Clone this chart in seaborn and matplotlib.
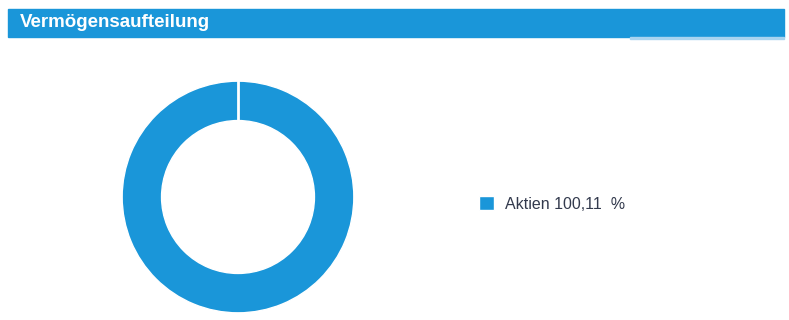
import matplotlib
matplotlib.use("Agg")
import matplotlib.pyplot as plt
import seaborn as sns
from matplotlib.patches import Rectangle

# Daten
labels = ["Aktien"]
values = [100.11]
colors = ["#1a96d9"]
title = "Vermögensaufteilung"

sns.set_theme(style="white")
plt.rcParams["font.family"] = ["Liberation Sans", "DejaVu Sans"]

W, H = 789, 320
fig = plt.figure(figsize=(W / 100, H / 100), dpi=100)

# Kopfbalken
fig.patches.append(Rectangle((8 / W, 1 - 37 / H), 776 / W, 28 / H,
                             transform=fig.transFigure, color="#1a96d9", zorder=0))
fig.patches.append(Rectangle((630 / W, 1 - 38.5 / H), 154 / W, 1.5 / H,
                             transform=fig.transFigure, color="#a9d4f0", zorder=0))
fig.text(20 / W, 1 - 22.5 / H, title, color="white", fontsize=13.5,
         fontweight="bold", va="center", ha="left")

# Donut
ax = fig.add_axes([121 / W, 6 / H, 234 / W, 234 / H])
wedges, _ = ax.pie(values, colors=colors, startangle=90, counterclock=False,
                   radius=1, wedgeprops=dict(width=0.34, edgecolor="white", linewidth=1.0))
# Trennlinie am Startpunkt des Segments
ax.plot([0, 0], [0.64, 1.0], color="white", linewidth=2)
ax.set_xlim(-1.01, 1.01)
ax.set_ylim(-1.01, 1.01)
ax.set_aspect("equal")
ax.axis("off")

legend_labels = [f"{l} {v:.2f}  %".replace(".", ",") for l, v in zip(labels, values)]
fig.legend(wedges, legend_labels, loc="center left",
           bbox_to_anchor=(465 / W, 1 - 204 / H), frameon=False,
           fontsize=11.5, handlelength=0.9, handleheight=0.9, handletextpad=0.7,
           labelcolor="#333a4d")

fig.savefig("out.png", dpi=100)
